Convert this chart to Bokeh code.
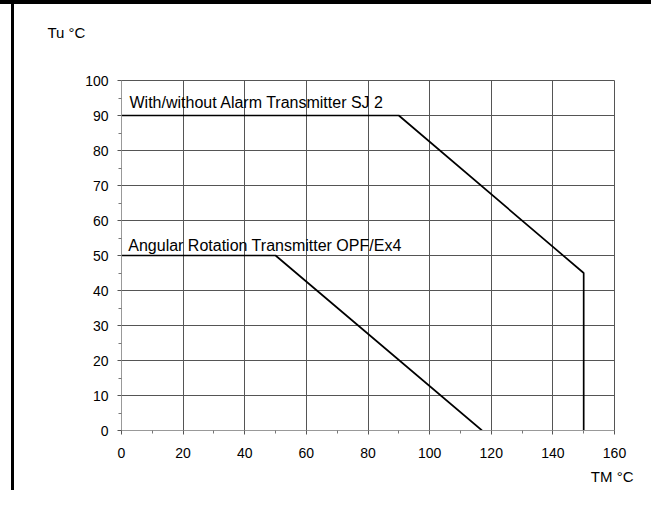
from bokeh.plotting import figure
from bokeh.models import Range1d, FixedTicker, Label, Title
from bokeh.embed import file_html
from bokeh.resources import INLINE

# ---- data ----
sj2_tm = [0, 90, 150, 150]
sj2_tu = [90, 90, 45, 0]
opf_tm = [0, 50, 117]
opf_tu = [50, 50, 0]

x_ticks = [0, 20, 40, 60, 80, 100, 120, 140, 160]
x_minor = [10, 30, 50, 70, 90, 110, 130, 150]
y_ticks = [0, 10, 20, 30, 40, 50, 60, 70, 80, 90, 100]
y_minor = [5, 15, 25, 35, 45, 55, 65, 75, 85, 95]

sj2_label = "With/without Alarm Transmitter SJ 2"
opf_label = "Angular Rotation Transmitter OPF/Ex4"
x_title = "TM °C"
y_title = "Tu °C"

FONT = "Liberation Sans"

frame_bg = ("linear-gradient(#000,#000) 0 0/100% 4px no-repeat, "
            "linear-gradient(#000,#000) 11px 0/3px 100% no-repeat, #fff")

p = figure(width=651, height=490, output_backend="svg", toolbar_location=None,
           x_range=Range1d(0, 160), y_range=Range1d(0, 100),
           min_border_left=121, min_border_right=37,
           min_border_top=80, min_border_bottom=59,
           styles={"background": frame_bg})

p.background_fill_color = "white"
p.border_fill_alpha = 0
p.outline_line_color = "#555555"
p.outline_line_width = 1

p.xaxis.ticker = FixedTicker(ticks=x_ticks, minor_ticks=x_minor)
p.yaxis.ticker = FixedTicker(ticks=y_ticks, minor_ticks=y_minor)

for ax in (p.xaxis[0], p.yaxis[0]):
    ax.axis_line_color = "#999999"
    ax.axis_line_width = 1
    ax.major_tick_in = 0
    ax.major_tick_out = 4
    ax.minor_tick_in = 0
    ax.minor_tick_out = 3
    ax.major_tick_line_color = "#555555"
    ax.minor_tick_line_color = "#777777"
    ax.major_label_text_font = FONT
    ax.major_label_text_font_size = "14px"
    ax.major_label_text_color = "black"

p.xaxis.major_label_standoff = 13
p.yaxis.major_label_standoff = 9

p.xgrid.ticker = FixedTicker(ticks=x_ticks)
p.ygrid.ticker = FixedTicker(ticks=y_ticks)
p.grid.grid_line_color = "#555555"
p.grid.grid_line_width = 1

p.line(sj2_tm, sj2_tu, line_color="black", line_width=1.7)
p.line(opf_tm, opf_tu, line_color="black", line_width=1.7)

p.add_layout(Label(x=2.6, y=93.6, text=sj2_label, text_font=FONT,
                   text_font_size="16px", text_color="black",
                   text_baseline="middle", text_align="left"))
p.add_layout(Label(x=2.2, y=53.0, text=opf_label, text_font=FONT,
                   text_font_size="16px", text_color="black",
                   text_baseline="middle", text_align="left"))

# spacer panel between the frame and the "Tu °C" title
p.add_layout(Title(text=" ", text_font_size="1px", standoff=36), "above")
p.add_layout(Title(text=y_title, align="left", offset=-74, standoff=2,
                   text_font=FONT, text_font_size="15px",
                   text_font_style="normal", text_color="black"), "above")
p.add_layout(Title(text=x_title, align="right", offset=-19, standoff=11,
                   text_font=FONT, text_font_size="15px",
                   text_font_style="normal", text_color="black"), "below")

open("out.html", "w").write(file_html(p, INLINE))
